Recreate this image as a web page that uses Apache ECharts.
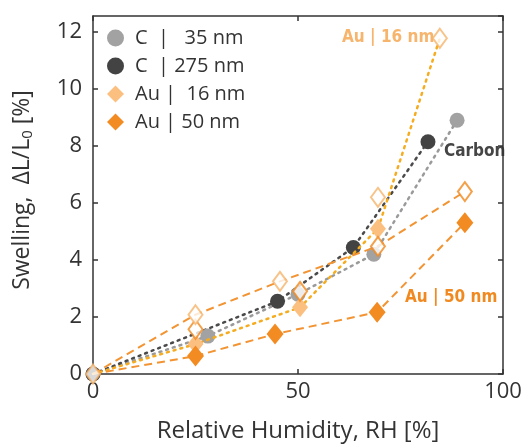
<!DOCTYPE html>
<html>
<head>
<meta charset="utf-8">
<script src="https://cdn.jsdelivr.net/npm/echarts@6/dist/echarts.min.js"></script>
<style>
  html, body { margin: 0; padding: 0; background: #fff; }
  #chart { width: 527px; height: 446px; }
</style>
</head>
<body>
<div id="chart"></div>
<script>
// values: [RH %, swelling %]
const c35 = [[0, 0], [28, 1.33], [50, 2.8], [68.5, 4.2], [88.8, 8.9]];
const c275 = [[0, 0], [45, 2.55], [63.5, 4.44], [81.7, 8.15]];
const au16 = [[0, 0], [25, 1.05], [50.5, 2.34], [69.5, 5.1], [84.6, 11.78]];
const au16Open = [[0, 0], [25, 2.08], [45.6, 3.25], [69.5, 6.2], [84.6, 11.78]];
const au50 = [[0, 0], [25, 0.63], [44.4, 1.4], [69.3, 2.17], [90.7, 5.31]];
const au50Open = [[25, 1.57], [50.5, 2.9], [69.5, 4.48], [90.7, 6.4]];
const upperDash = [[0, 0], [25, 2.08], [45.6, 3.25], [69.5, 4.48], [90.7, 6.4]];

const xTicks = [0, 50, 100];
const yTicks = [0, 2, 4, 6, 8, 10, 12];

const FONT = '"Open Sans", "Noto Sans", sans-serif';
const NARROW = '"Liberation Sans Narrow", "DejaVu Sans Condensed", sans-serif';

const chart = echarts.init(document.getElementById('chart'), null, { renderer: 'canvas' });

// hide the symbol on the end points that show an open marker instead
const midOnly = (n) => (v, p) => (p.dataIndex === 0 || p.dataIndex === n - 1) ? 'none' : 'diamond';

const axisCommon = {
  axisLine: { show: true, onZero: false, lineStyle: { color: '#333', width: 1.5 } },
  axisTick: { show: true, inside: true, length: 5, lineStyle: { color: '#333', width: 1.5 } },
  splitLine: { show: false }
};

const option = {
  animation: false,
  backgroundColor: '#fff',
  grid: { left: 93, right: 24, top: 16, bottom: 72, outerBoundsMode: 'none' },
  legend: {
    orient: 'vertical',
    left: 102,
    top: 23,
    itemWidth: 17,
    itemHeight: 17,
    itemGap: 8,
    selectedMode: false,
    textStyle: { fontFamily: FONT, fontSize: 20, color: '#333', padding: [0, 0, 0, 6] },
    data: [
      { name: 'C  |   35 nm', icon: 'circle' },
      { name: 'C  | 275 nm', icon: 'circle' },
      { name: 'Au |  16 nm', icon: 'diamond' },
      { name: 'Au | 50 nm', icon: 'diamond' }
    ]
  },
  xAxis: [
    Object.assign({}, axisCommon, {
      type: 'value', min: 0, max: 100, interval: 50,
      name: 'Relative Humidity, RH [%]',
      nameLocation: 'middle', nameGap: 45,
      nameTextStyle: { fontFamily: FONT, fontSize: 24, color: '#333' },
      axisLabel: { fontFamily: FONT, fontSize: 22, color: '#333', margin: 7,
        formatter: v => xTicks.includes(v) ? String(v) : '' }
    }),
    Object.assign({}, axisCommon, {
      type: 'value', min: 0, max: 100, interval: 50, position: 'top',
      axisLabel: { show: false }
    })
  ],
  yAxis: [
    Object.assign({}, axisCommon, {
      type: 'value', min: 0, max: 12.56, interval: 2,
      name: '{a|Swelling,  ΔL/L}{s|0}{a| [%]}',
      nameLocation: 'middle', nameGap: 58,
      nameTextStyle: {
        padding: [0, 0, 0, 10],
        rich: {
          a: { fontFamily: FONT, fontSize: 23, color: '#333' },
          s: { fontFamily: FONT, fontSize: 15, color: '#333', verticalAlign: 'bottom', padding: [10, 0, 0, 0] }
        }
      },
      axisLabel: { fontFamily: FONT, fontSize: 22, color: '#333', margin: 11, showMaxLabel: false,
        formatter: v => yTicks.includes(v) ? String(v) : '' }
    }),
    Object.assign({}, axisCommon, {
      type: 'value', min: 0, max: 12.56, interval: 2, position: 'right',
      axisLabel: { show: false }
    })
  ],
  series: [
    {
      name: 'C  |   35 nm', type: 'line', data: c35,
      symbol: 'circle', symbolSize: 15,
      itemStyle: { color: '#a2a2a2' },
      lineStyle: { color: '#9a9a9a', width: 2.5, type: [2, 5], cap: 'round' },
      z: 2
    },
    {
      name: 'C  | 275 nm', type: 'line', data: c275,
      symbol: 'circle', symbolSize: 15,
      itemStyle: { color: '#434343' },
      lineStyle: { color: '#4a4a4a', width: 2.5, type: [2, 5], cap: 'round' },
      z: 2
    },
    {
      name: 'Au |  16 nm', type: 'line', data: au16,
      symbol: midOnly(au16.length), symbolSize: [16, 20],
      itemStyle: { color: '#fbbf80' },
      lineStyle: { color: '#f5ac20', width: 2.5, type: [2, 5], cap: 'round' },
      z: 3
    },
    {
      name: 'upper', type: 'line', data: upperDash,
      symbol: 'none',
      lineStyle: { color: '#f39433', width: 2, type: [8, 5] },
      z: 3
    },
    {
      name: 'Au | 50 nm', type: 'line', data: au50,
      symbol: (v, p) => p.dataIndex === 0 ? 'none' : 'diamond', symbolSize: [17, 21],
      itemStyle: { color: '#f28c22' },
      lineStyle: { color: '#f39433', width: 2, type: [8, 5] },
      z: 3
    },
    {
      name: 'au50open', type: 'scatter', data: au50Open,
      symbol: 'diamond', symbolSize: [14, 19],
      itemStyle: { color: '#fff', borderColor: '#f0881e', borderWidth: 2 },
      z: 4
    },
    {
      name: 'au16open', type: 'scatter', data: au16Open,
      symbol: 'diamond', symbolSize: [14, 19],
      itemStyle: { color: '#fff', borderColor: '#f6b46c', borderWidth: 2 },
      z: 4
    }
  ],
  graphic: [
    { type: 'text', left: 342, top: 29,
      style: { text: 'Au | 16 nm', fill: '#f6b46c', font: 'bold 17px ' + NARROW } },
    { type: 'text', left: 444, top: 143,
      style: { text: 'Carbon', fill: '#454545', font: 'bold 17px ' + NARROW } },
    { type: 'text', left: 405, top: 289,
      style: { text: 'Au | 50 nm', fill: '#f08a20', font: 'bold 17px ' + NARROW } }
  ]
};

chart.setOption(option);
</script>
</body>
</html>
